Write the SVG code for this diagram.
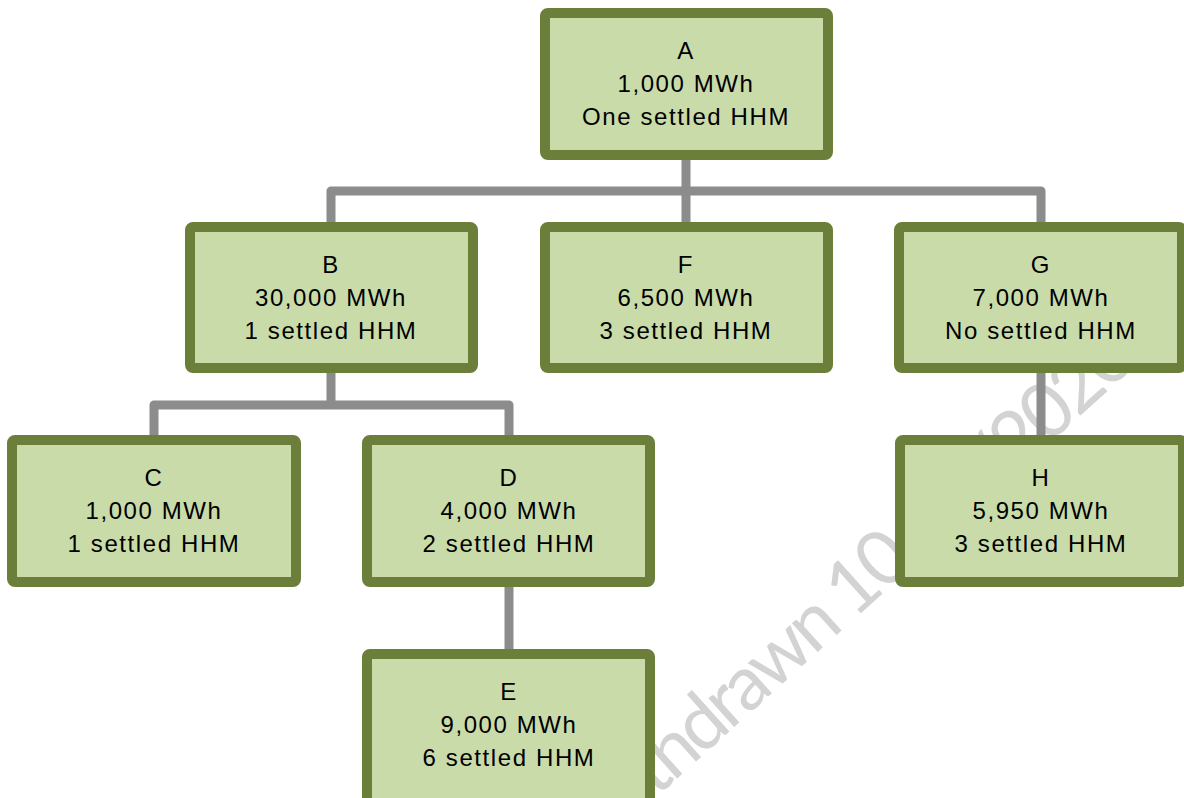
<svg xmlns="http://www.w3.org/2000/svg" width="1184" height="798" viewBox="0 0 1184 798">
<style>
.box{fill:#cadbaa;stroke:#6b7f3a;stroke-width:10}
.lbl{font-family:"Liberation Sans",Arial,sans-serif;font-size:24px;letter-spacing:1.6px;fill:#000;text-anchor:middle}
.conn{fill:none;stroke:#8c8c8c;stroke-width:9;stroke-linejoin:round}
.wm{font-family:Lato,"Open Sans",sans-serif;font-size:76px;fill:#d3d3d3;letter-spacing:-4px}
</style>
<rect width="1184" height="798" fill="#fff"/>
<text class="wm" transform="translate(590,857) rotate(-42)">Withdrawn 10/12/2020</text>
<g id="connectors">
<path class="conn" d="M686 160V191M331 222V191H1041V222M686 191V222"/>
<path class="conn" d="M331 373V405M154 436V405H509V436"/>
<path class="conn" d="M509 587V650"/>
<path class="conn" d="M1041 373V436"/>
</g>
<g id="A"><rect class="box" x="545" y="13" width="283" height="142" rx="3"/>
<text class="lbl" x="686" y="59">A</text><text class="lbl" x="686" y="92">1,000 MWh</text><text class="lbl" x="686" y="125">One settled HHM</text></g>
<g id="B"><rect class="box" x="190" y="227" width="283" height="141" rx="3"/>
<text class="lbl" x="331" y="273">B</text><text class="lbl" x="331" y="306">30,000 MWh</text><text class="lbl" x="331" y="339">1 settled HHM</text></g>
<g id="F"><rect class="box" x="545" y="227" width="283" height="141" rx="3"/>
<text class="lbl" x="686" y="273">F</text><text class="lbl" x="686" y="306">6,500 MWh</text><text class="lbl" x="686" y="339">3 settled HHM</text></g>
<g id="G"><rect class="box" x="899" y="227" width="283" height="141" rx="3"/>
<text class="lbl" x="1041" y="273">G</text><text class="lbl" x="1041" y="306">7,000 MWh</text><text class="lbl" x="1041" y="339">No settled HHM</text></g>
<g id="C"><rect class="box" x="12" y="440" width="284" height="142" rx="3"/>
<text class="lbl" x="154" y="486">C</text><text class="lbl" x="154" y="519">1,000 MWh</text><text class="lbl" x="154" y="552">1 settled HHM</text></g>
<g id="D"><rect class="box" x="367" y="440" width="283" height="142" rx="3"/>
<text class="lbl" x="509" y="486">D</text><text class="lbl" x="509" y="519">4,000 MWh</text><text class="lbl" x="509" y="552">2 settled HHM</text></g>
<g id="H"><rect class="box" x="900" y="440" width="283" height="142" rx="3"/>
<text class="lbl" x="1041" y="486">H</text><text class="lbl" x="1041" y="519">5,950 MWh</text><text class="lbl" x="1041" y="552">3 settled HHM</text></g>
<g id="E"><rect class="box" x="367" y="654" width="283" height="160" rx="3"/>
<text class="lbl" x="509" y="700">E</text><text class="lbl" x="509" y="733">9,000 MWh</text><text class="lbl" x="509" y="766">6 settled HHM</text></g>
</svg>
